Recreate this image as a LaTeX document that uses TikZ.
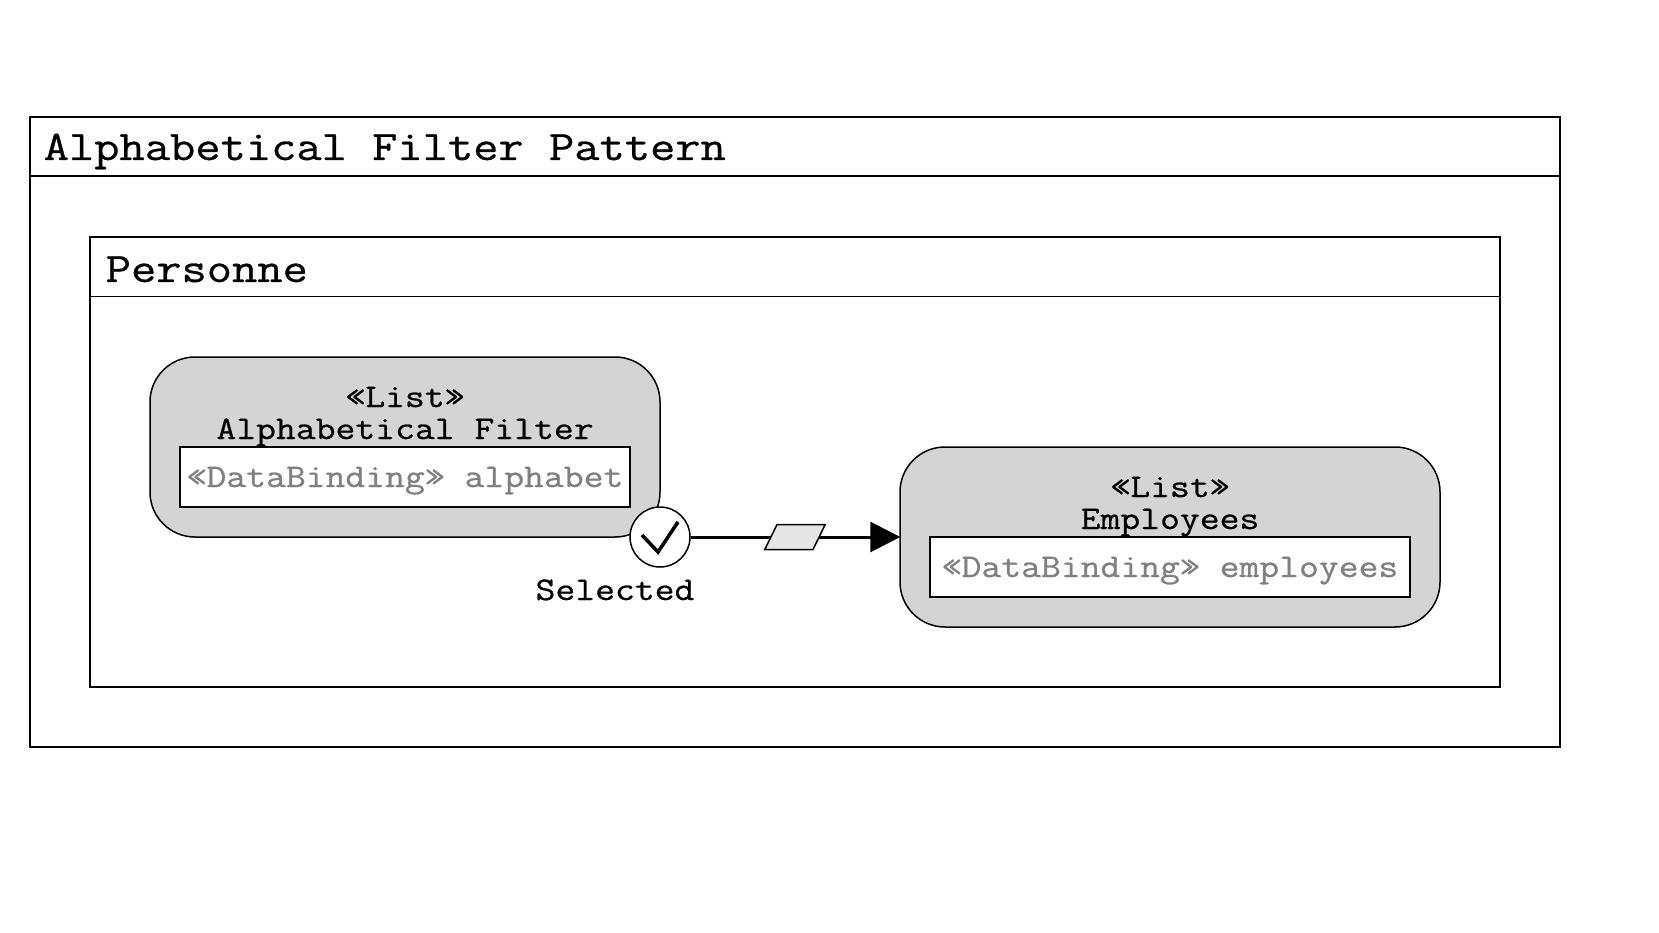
\documentclass[tikz,border=0pt]{standalone}
\usepackage{fontspec}
\setmonofont{Latin Modern Mono}[FakeStretch=1.168,FakeBold=0.7]
\usetikzlibrary{arrows.meta,shapes.geometric}

\begin{document}
\begin{tikzpicture}[
            x=1pt, y=-1pt,
            line width=1.5pt,
            frame/.style={draw, rectangle, inner sep=0pt},
            monotext/.style={inner sep=0pt, text height=30pt, text depth=0pt},
            titletext/.style={inner sep=0pt, anchor=base west, font=\ttfamily\fontsize{42}{42}\selectfont},
            listtext/.style={monotext, font=\ttfamily\fontsize{33}{33}\selectfont},
            listbox/.style={draw, rectangle, rounded corners=45pt, fill=black!17, inner sep=0pt},
            bindbox/.style={frame, fill=white, inner sep=0pt, text height=20pt, text depth=0pt, text=black!50, font=\ttfamily\fontsize{33}{33}\selectfont},
            flow/.style={-{Triangle[length=30pt,width=30pt]}, line width=3pt, shorten >=-1pt},
            flag/.style={draw, trapezium, trapezium left angle=64, trapezium right angle=116,
                text width=36pt, text height=25pt, text depth=0pt,
                inner sep=0pt, fill=black!10, line width=1.5pt}
        ]
            \useasboundingbox (0,0) rectangle (1659,933);

            % cadres
            \node[frame, minimum width=1530pt, minimum height=630pt] (pattern) at (795,432) {};
            \node[frame, minimum width=1410pt, minimum height=450pt] (personne) at (795,462) {};
            \draw ([yshift=-60pt]pattern.north west) -- ([yshift=-60pt]pattern.north east);
            \draw ([yshift=-60pt]personne.north west) -- ([yshift=-60pt]personne.north east);
            \node[titletext] (patterntitle) at (43,160) {Alphabetical Filter Pattern};
            \node[titletext] (personnetitle) at (105,282) {Personne};

            % listes
            \node[listbox, minimum width=510pt, minimum height=180pt] (filter) at (405,447) {};
            \node[listbox, minimum width=540pt, minimum height=180pt] (employees) at (1170,537) {};
            \node[listtext] (filterstereo) at (405,392) {«List»};
            \node[listtext] (filtername) at (405,424) {Alphabetical Filter};
            \node[listtext] (employeesstereo) at (1170,482) {«List»};
            \node[listtext] (employeesname) at (1170,514) {Employees};
            \node[bindbox, minimum width=450pt, minimum height=60pt] (alphabet) at (405,477) {«DataBinding» alphabet};
            \node[bindbox, minimum width=480pt, minimum height=60pt] (bindemployees) at (1170,567) {«DataBinding» employees};

            % evenement et flux
            \node[draw, circle, fill=white, minimum size=60pt, inner sep=0pt] (selected) at (660,537) {};
            \draw[line width=3.5pt] ([shift={(-18,-2)}]selected.center) -- ([shift={(-2,15)}]selected.center) -- ([shift={(18,-15)}]selected.center);
            \node[listtext] (selectedlabel) at (615,585) {Selected};
            \draw[flow] (selected) -- node[flag] (flowflag) {} (employees);
        \end{tikzpicture}
\end{document}
